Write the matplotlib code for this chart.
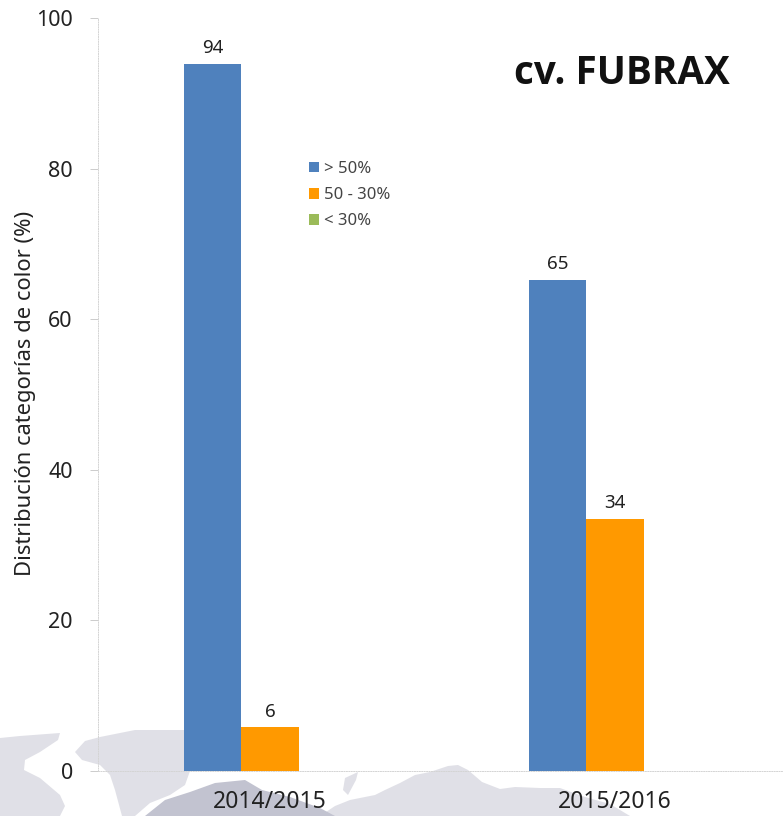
import numpy as np
import matplotlib
matplotlib.use("Agg")
import matplotlib.pyplot as plt
from matplotlib.patches import Polygon

plt.rcParams['font.family'] = ['Noto Sans', 'DejaVu Sans']

W, H = 783, 816

years = ['2014/2015', '2015/2016']
high = [93.9, 65.2]
mid = [5.8, 33.5]
low = [0, 0]
high_labels = ['94', '65']
mid_labels = ['6', '34']
series_names = ['> 50%', '50 - 30%', '< 30%']
yticks = [0, 20, 40, 60, 80, 100]

blue = '#4f81bd'
orange = '#ff9900'
green = '#9bbb59'
map_grey = '#e0e0e7'
map_dark = '#c2c3d0'

# faded world map behind the chart, pixel outlines
map_left = [(0, 738), (20, 736), (60, 733), (58, 740), (40, 752), (25, 760), (24, 770),
            (40, 778), (60, 795), (65, 806), (60, 816), (0, 816)]
map_mid = [(75, 752), (85, 741), (100, 737), (135, 730), (190, 730), (190, 771), (185, 785),
           (170, 795), (150, 803), (135, 816), (122, 816), (115, 790), (110, 775), (100, 765), (82, 760)]
map_rock = [(145, 816), (165, 800), (190, 792), (215, 783), (245, 780), (262, 790),
            (290, 797), (320, 808), (335, 816)]
map_right = [(320, 816), (335, 806), (350, 800), (375, 795), (385, 790), (400, 783), (415, 775),
             (430, 772), (448, 766), (458, 765), (468, 770), (482, 782), (500, 789), (515, 787),
             (540, 788), (560, 788), (585, 797), (610, 804), (630, 816)]
map_island = [(345, 778), (358, 772), (356, 780), (348, 795), (343, 790)]

fig = plt.figure(figsize=(W / 100, H / 100), dpi=100)

bg = fig.add_axes([0, 0, 1, 1], zorder=0)
bg.set_xlim(0, W)
bg.set_ylim(H, 0)
bg.axis('off')
for outline in [map_left, map_mid, map_right, map_island]:
    bg.add_patch(Polygon(outline, closed=True, fc=map_grey, ec='none'))
bg.add_patch(Polygon(map_rock, closed=True, fc=map_dark, ec='none'))

ax = fig.add_axes([97.5 / W, (H - 771) / H, 690 / W, 753 / H], zorder=1)
ax.patch.set_alpha(0)

x = np.arange(len(years))
width = 0.166
b1 = ax.bar(x - width, high, width, color=blue, label=series_names[0])
b2 = ax.bar(x, mid, width, color=orange, label=series_names[1])
b3 = ax.bar(x + width, low, width, color=green, label=series_names[2])

for i in range(len(years)):
    ax.text(x[i] - width, high[i] + 0.9, high_labels[i], ha='center', va='bottom', fontsize=13.5, color='#222222')
    ax.text(x[i], mid[i] + 0.9, mid_labels[i], ha='center', va='bottom', fontsize=13.5, color='#222222')

ax.set_xlim(-0.5, 1.5)
ax.set_ylim(0, 100)
ax.set_xticks(x)
ax.set_xticklabels(years, fontsize=16.5, color='#222222')
ax.set_yticks(yticks)
ax.tick_params(axis='x', length=0, pad=14)
ax.tick_params(axis='y', length=5.8, width=0.7, color='#cccccc', labelsize=15.5, labelcolor='#222222', pad=12)
for t in ax.get_yticklines():
    t.set_linestyle((0, (1, 1)))

ax.spines['top'].set_visible(False)
ax.spines['right'].set_visible(False)
for s in ['left', 'bottom']:
    ax.spines[s].set_color('#d4d4d4')
    ax.spines[s].set_linewidth(0.7)
    ax.spines[s].set_linestyle((0, (1, 1.5)))

fig.text(26 / W, (H - 393) / H, 'Distribución categorías de color (%)', rotation=90,
         ha='center', va='center', fontsize=15.8, color='#222222')

fig.text(622 / W, (H - 74) / H, 'cv. FUBRAX', ha='center', va='center',
         fontsize=27.8, fontweight='bold', family=['Open Sans', 'DejaVu Sans'], color='#111111')

ax.legend(handles=[b1, b2, b3], loc='upper left', bbox_to_anchor=((309 - 97.5) / 690, (771 - 161) / 753),
          frameon=False, fontsize=12, handlelength=0.6, handleheight=0.6, handletextpad=0.3,
          labelspacing=0.61, labelcolor='#444444', borderpad=0, borderaxespad=0)

fig.savefig('out.png', dpi=100)
